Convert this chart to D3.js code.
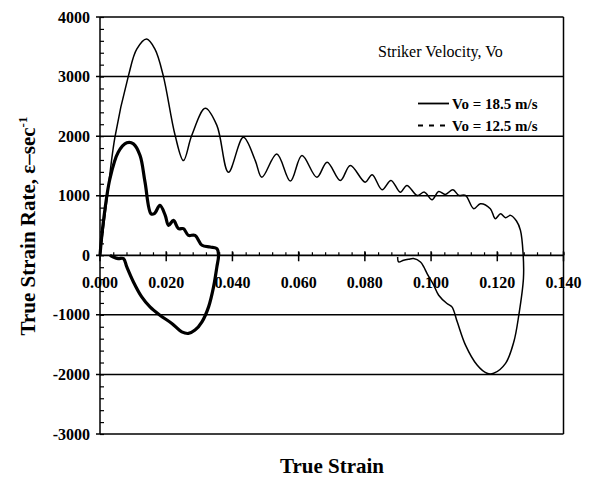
<!DOCTYPE html>
<html>
<head>
<meta charset="utf-8">
<script src="https://cdn.jsdelivr.net/npm/d3@7"></script>
<style>
  body { margin: 0; background: #fff; }
  text { font-family: "Liberation Serif", "Times New Roman", serif; fill: #000; }
</style>
</head>
<body>
<div id="chart"></div>
<script>
// strain / strain-rate readings, Vo = 18.5 m/s (thin line)
var strain185 = [0.0000, 0.0008, 0.0020, 0.0045, 0.0086, 0.0111, 0.0141, 0.0166, 0.0191, 0.0227,
  0.0252, 0.0277, 0.0318, 0.0353, 0.0388, 0.0433, 0.0469, 0.0489, 0.0534, 0.0575,
  0.0610, 0.0655, 0.0686, 0.0726, 0.0756, 0.0801, 0.0822, 0.0852, 0.0879, 0.0907,
  0.0927, 0.0958, 0.0980, 0.1003, 0.1023, 0.1043, 0.1066, 0.1084, 0.1104, 0.1129,
  0.1149, 0.1179, 0.1194, 0.1210, 0.1225, 0.1240, 0.1258, 0.1270, 0.1278, 0.1279,
  0.1265, 0.1250, 0.1225, 0.1189, 0.1169, 0.1139, 0.1104, 0.1079, 0.1063, 0.1048,
  0.1023, 0.1008, 0.0988, 0.0978, 0.0968, 0.0947, 0.0932, 0.0917, 0.0902, 0.0899];
var rate185 = [0, 350, 893, 1980, 3015, 3460, 3630, 3460, 3015, 2010,
  1590, 2010, 2467, 2180, 1395, 1980, 1590, 1310, 1700, 1245,
  1675, 1310, 1563, 1256, 1508, 1228, 1352, 1100, 1256, 1060,
  1173, 1005, 1060, 933, 1072, 1022, 1100, 1005, 1005, 782,
  866, 782, 615, 698, 632, 670, 575, 419, 28, -390,
  -1005, -1452, -1814, -1981, -1981, -1842, -1508, -1117, -866, -810,
  -670, -502, -307, -196, -112, -55, -67, -84, -112, -30];

// Vo = 12.5 m/s (thick line)
var strain125 = [0.0000, 0.0010, 0.0030, 0.0055, 0.0081, 0.0101, 0.0121, 0.0136, 0.0154, 0.0164,
  0.0181, 0.0197, 0.0207, 0.0222, 0.0237, 0.0252, 0.0267, 0.0287, 0.0308, 0.0333,
  0.0353, 0.0358, 0.0353, 0.0343, 0.0328, 0.0308, 0.0287, 0.0267, 0.0247, 0.0217,
  0.0181, 0.0151, 0.0126, 0.0101, 0.0081, 0.0071, 0.0055, 0.0040, 0.0030];
var rate125 = [0, 558, 1285, 1730, 1888, 1871, 1675, 1228, 698, 698,
  838, 670, 502, 586, 447, 447, 335, 335, 168, 139,
  112, 0, -196, -531, -866, -1117, -1256, -1312, -1285, -1144,
  -1005, -866, -698, -447, -196, -55, -55, -28, 0];

var xTicks = [0, 0.02, 0.04, 0.06, 0.08, 0.10, 0.12, 0.14];
var yTicks = [-3000, -2000, -1000, 0, 1000, 2000, 3000, 4000];
var legendLabels = ["Vo = 18.5 m/s", "Vo = 12.5 m/s"];

var W = 592, H = 477;
var svg = d3.select("#chart").append("svg")
    .attr("width", W)
    .attr("height", H);

svg.append("rect").attr("width", W).attr("height", H).attr("fill", "#fff");

var x = d3.scaleLinear().domain([0, 0.14]).range([100, 563.5]);
var y = d3.scaleLinear().domain([-3000, 4000]).range([434, 17]);

// horizontal gridlines (top and bottom ones close the frame)
svg.append("g").selectAll("line")
    .data(yTicks.filter((d) => d !== 0))
    .enter().append("line")
    .attr("x1", 96).attr("x2", x(0.14))
    .attr("y1", (d) => y(d)).attr("y2", (d) => y(d))
    .attr("stroke", "#000").attr("stroke-width", 1.5);

// left axis + right border
svg.append("line").attr("x1", x(0)).attr("x2", x(0)).attr("y1", y(4000)).attr("y2", y(-3000))
    .attr("stroke", "#000").attr("stroke-width", 1.5);
svg.append("line").attr("x1", x(0.14)).attr("x2", x(0.14)).attr("y1", y(4000)).attr("y2", y(-3000))
    .attr("stroke", "#000").attr("stroke-width", 1.5);

// y minor ticks
var yMinor = d3.range(-3000, 4001, 200);
var yAxis = svg.append("g")
    .attr("transform", `translate(${x(0)},0)`)
    .call(d3.axisRight(y).tickValues(yMinor).tickSize(4).tickFormat(""));
yAxis.select(".domain").remove();
yAxis.selectAll("line").attr("stroke-width", 1.2);

// y labels
svg.append("g").selectAll("text")
    .data(yTicks)
    .enter().append("text")
    .attr("x", 90).attr("y", (d) => y(d))
    .attr("text-anchor", "end")
    .attr("dominant-baseline", "central")
    .style("font-size", "16px").style("font-weight", "bold")
    .text((d) => d);

// x axis along zero
var xMinor = d3.range(0, 0.1401, 0.004);
var xAxis = svg.append("g")
    .attr("transform", `translate(0,${y(0)})`)
    .call(d3.axisTop(x).tickValues(xMinor).tickSize(3).tickFormat(""));
xAxis.select(".domain").remove();
xAxis.selectAll("line").attr("stroke-width", 1.2);

svg.append("line").attr("x1", x(0) - 4).attr("x2", x(0.14))
    .attr("y1", y(0)).attr("y2", y(0))
    .attr("stroke", "#000").attr("stroke-width", 1.8);

svg.append("g").selectAll("line")
    .data(xTicks)
    .enter().append("line")
    .attr("x1", (d) => x(d)).attr("x2", (d) => x(d))
    .attr("y1", y(0) - 4).attr("y2", y(0) + 6)
    .attr("stroke", "#000").attr("stroke-width", 1.5);

svg.append("g").selectAll("text")
    .data(xTicks)
    .enter().append("text")
    .attr("x", (d) => x(d)).attr("y", 288)
    .attr("text-anchor", "middle")
    .style("font-size", "16px").style("font-weight", "bold")
    .text(d3.format(".3f"));

// curves
var line = d3.line()
    .x((d) => x(d[0]))
    .y((d) => y(d[1]))
    .curve(d3.curveCatmullRom.alpha(0.5));

svg.append("path")
    .datum(d3.zip(strain185, rate185))
    .attr("d", line)
    .attr("fill", "none").attr("stroke", "#000").attr("stroke-width", 1.5);

svg.append("path")
    .datum(d3.zip(strain125, rate125))
    .attr("d", line)
    .attr("fill", "none").attr("stroke", "#000").attr("stroke-width", 3.2)
    .attr("stroke-linejoin", "round");

// legend
svg.append("text")
    .attr("x", 378).attr("y", 57)
    .style("font-size", "16px")
    .text("Striker Velocity, Vo");

var legend = svg.append("g").selectAll("g")
    .data(legendLabels)
    .enter().append("g")
    .attr("transform", (d, i) => `translate(0,${103.5 + i * 22})`);

legend.append("line")
    .attr("x1", 418).attr("x2", 449)
    .attr("stroke", "#000").attr("stroke-width", 1.8)
    .attr("stroke-dasharray", (d, i) => i === 1 ? "5,6" : null);

legend.append("text")
    .attr("x", 452).attr("y", 0)
    .attr("dominant-baseline", "central")
    .style("font-size", "15px").style("font-weight", "bold")
    .text((d) => d);

// axis titles
svg.append("text")
    .attr("x", 332).attr("y", 473)
    .attr("text-anchor", "middle")
    .style("font-size", "21px").style("font-weight", "bold")
    .text("True Strain");

var yt = svg.append("text")
    .attr("transform", "translate(35,226) rotate(-90)")
    .attr("text-anchor", "middle")
    .style("font-size", "21px").style("font-weight", "bold");
yt.append("tspan").text("True Strain Rate, \u03b5\u2013sec");
yt.append("tspan").attr("dy", -8).style("font-size", "13px").text("-1");
</script>
</body>
</html>
